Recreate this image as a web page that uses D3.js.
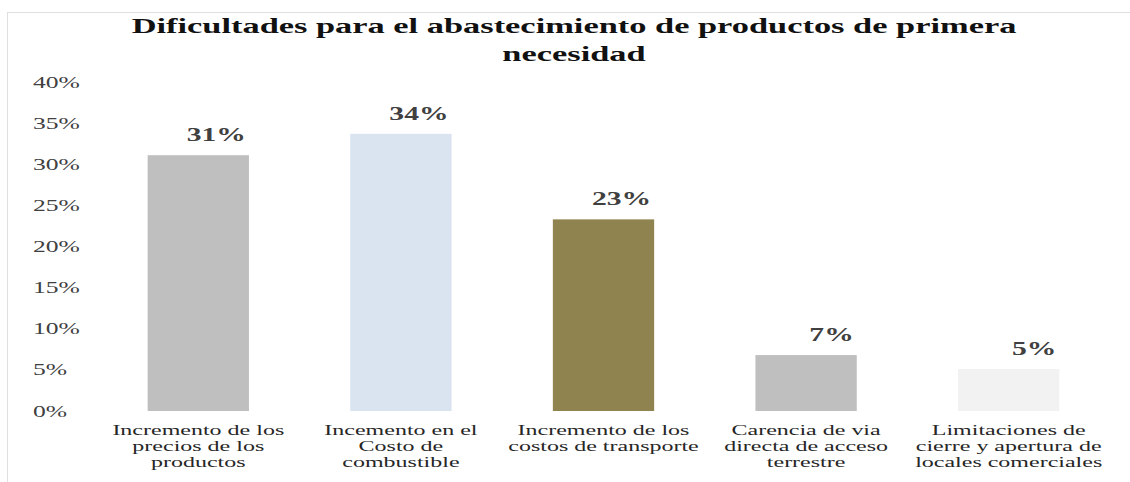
<!DOCTYPE html>
<html>
<head>
<meta charset="utf-8">
<script src="https://cdn.jsdelivr.net/npm/d3@7"></script>
<style>
  html, body { margin: 0; padding: 0; background: #fff; }
  svg { display: block; }
</style>
</head>
<body>
<svg id="chart" width="1130" height="482"></svg>
<script>
// ---- data ----
const titleLines = ["Dificultades para el abastecimiento de productos de primera", "necesidad"];
const categories = [
  ["Incremento de los", "precios de los", "productos"],
  ["Incemento en el", "Costo de", "combustible"],
  ["Incremento de los", "costos de transporte"],
  ["Carencia de via", "directa de acceso", "terrestre"],
  ["Limitaciones de", "cierre y apertura de", "locales comerciales"]
];
const values = [31.1, 33.7, 23.3, 6.8, 5.1];
const barColors = ["#bfbfbf", "#dae3f0", "#8f8350", "#bfbfbf", "#f2f2f2"];
const yTicks = [0, 5, 10, 15, 20, 25, 30, 35, 40];

// ---- layout ----
const W = 1130, H = 482;
const SX = 1.6; // horizontal stretch of the text in the reference
const FONT = "'Liberation Serif', 'Times New Roman', Times, 'DejaVu Serif', serif";
const svg = d3.select("#chart");

// frame
svg.append("line").attr("x1", 7).attr("x2", W).attr("y1", 12.5).attr("y2", 12.5)
  .attr("stroke", "#e0e0e0").attr("stroke-width", 1);
svg.append("line").attr("x1", 7.5).attr("x2", 7.5).attr("y1", 12).attr("y2", H)
  .attr("stroke", "#e0e0e0").attr("stroke-width", 1);

const ids = categories.map((c, i) => "c" + i);
const x = d3.scaleBand().domain(ids).range([97, 1110]).paddingInner(0.5).paddingOuter(0.25);
const y = d3.scaleLinear().domain([0, 40]).range([411, 82]);

function stretchText(sel, tx, ty) {
  sel.attr("x", 0).attr("y", 0).attr("dy", null)
     .style("font-family", FONT)
     .attr("transform", (d, i) => `translate(${tx(d, i)},${ty(d, i)}) scale(${SX},1)`);
}

// title
svg.append("g").selectAll("text").data(titleLines).join("text")
  .text(d => d)
  .attr("text-anchor", "middle")
  .style("font-weight", "bold")
  .style("font-size", "21.5px")
  .attr("fill", "#111")
  .call(stretchText, () => 574, (d, i) => 33 + i * 28);

// y axis
const yAxis = d3.axisLeft(y).tickValues(yTicks).tickFormat(d => d + "%").tickSize(0);
const gy = svg.append("g").call(yAxis).attr("font-family", null).attr("font-size", null);
gy.select(".domain").remove();
gy.selectAll(".tick text")
  .attr("text-anchor", "start")
  .style("font-size", "16px")
  .attr("fill", "#404040")
  .call(stretchText, () => 33, () => 5);

// bars
svg.append("g").selectAll("rect").data(values).join("rect")
  .attr("x", (d, i) => x(ids[i]))
  .attr("width", x.bandwidth())
  .attr("y", d => y(d))
  .attr("height", d => y(0) - y(d))
  .attr("fill", (d, i) => barColors[i]);

// data labels
svg.append("g").selectAll("text").data(values).join("text")
  .text(d => Math.round(d) + "%")
  .attr("text-anchor", "end")
  .style("font-weight", "bold")
  .style("font-size", "18.5px")
  .attr("fill", "#404040")
  .call(stretchText, (d, i) => x(ids[i]) + x.bandwidth() - 3, d => y(d) - 14);

// category labels
const gc = svg.append("g").selectAll("g").data(categories).join("g");
gc.each(function(lines, i) {
  const cx = x(ids[i]) + x.bandwidth() / 2;
  d3.select(this).selectAll("text").data(lines).join("text")
    .text(d => d)
    .attr("text-anchor", "middle")
    .style("font-size", "15px")
    .attr("fill", "#262626")
    .call(stretchText, () => cx, (d, j) => 435 + j * 16);
});
</script>
</body>
</html>
